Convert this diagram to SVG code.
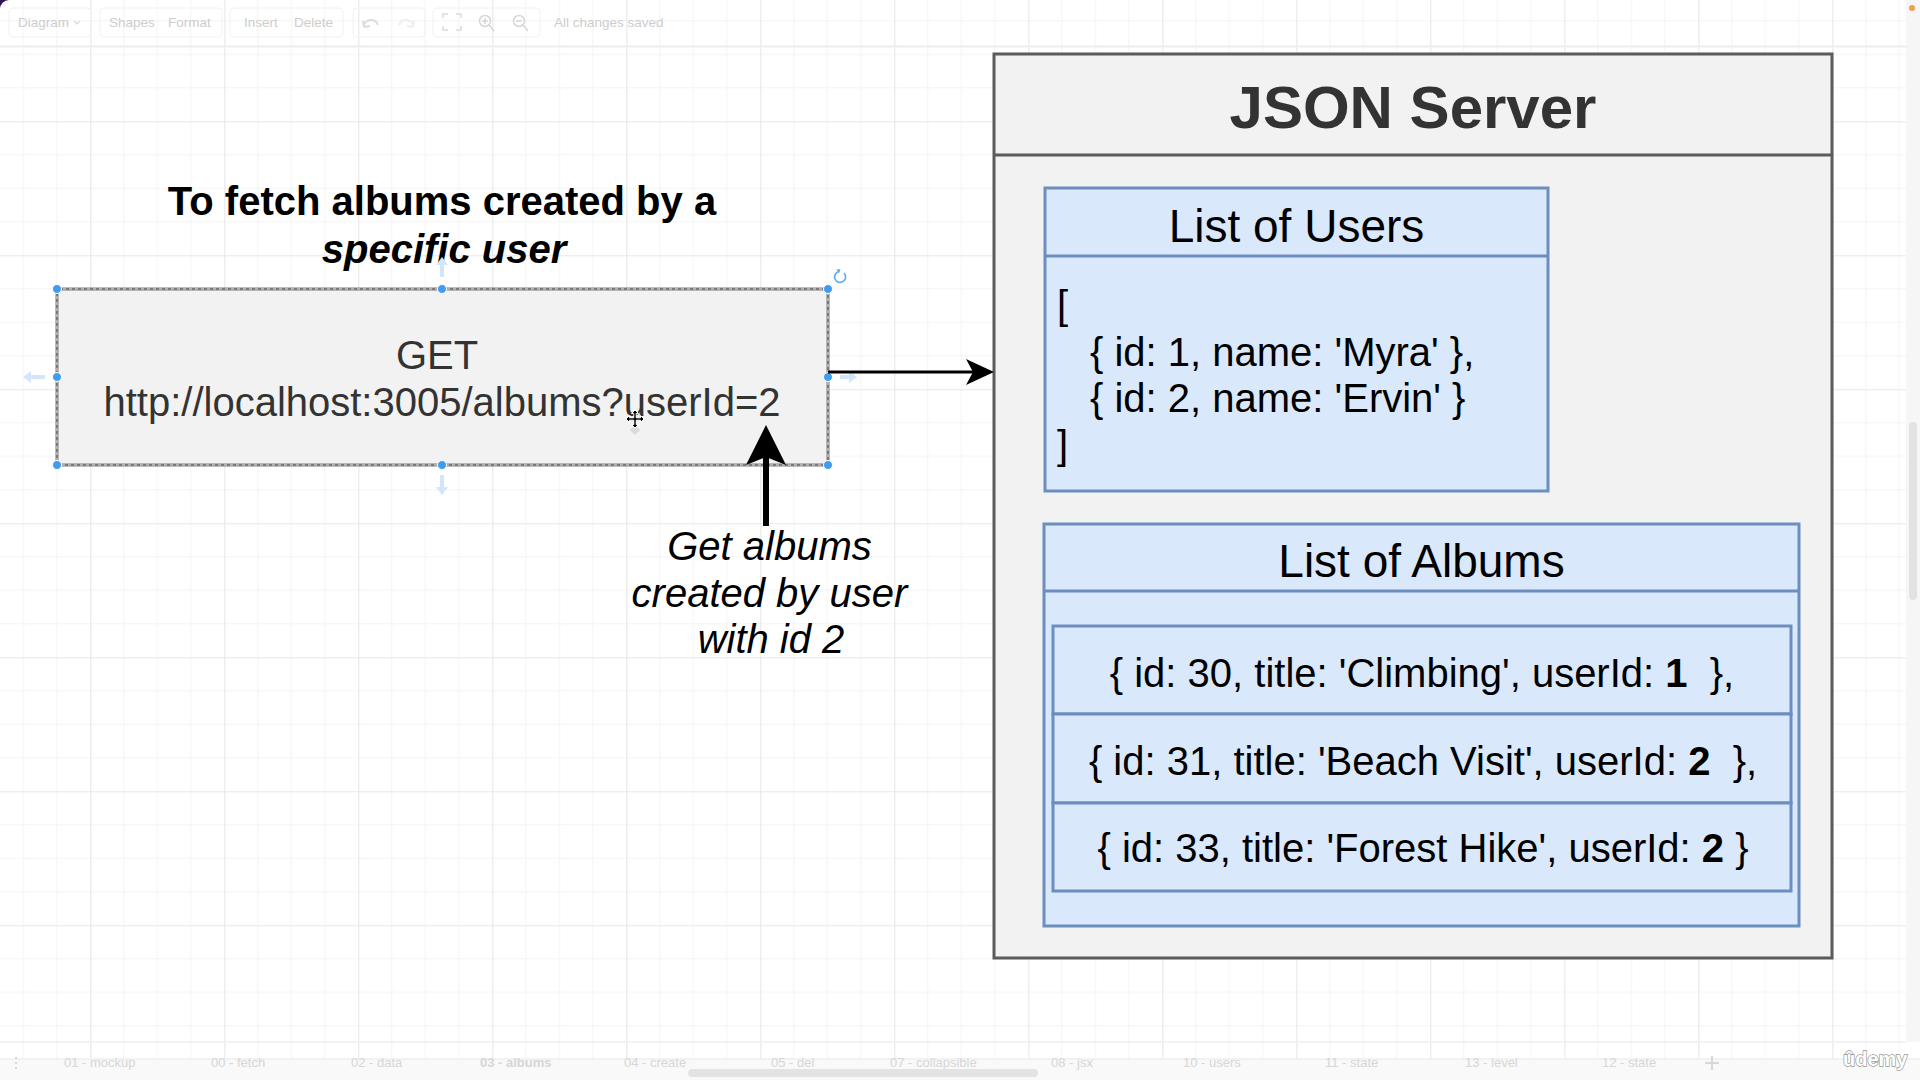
<svg xmlns="http://www.w3.org/2000/svg" width="1920" height="1080" viewBox="0 0 1920 1080">
<defs>
<style>
.f{font-family:"Liberation Sans",Arial,Helvetica,sans-serif}
.ui{font-family:"Liberation Sans",Arial,sans-serif;font-size:13.5px;fill:#cdcdcd}
.tab{font-family:"Liberation Sans",Arial,sans-serif;font-size:13px;fill:#d6d6d6}
.blue{fill:#dae8fc;stroke:#6c8ebf;stroke-width:3}
.bl{stroke:#6c8ebf;stroke-width:3;fill:none}
.row{font-family:"Liberation Sans",Arial,sans-serif;font-size:40px;fill:#000;text-anchor:middle;white-space:pre}
.handle{fill:#3f9cf0;stroke:#fff;stroke-width:1}
.hover{fill:#d3e5fa}
.tb{fill:none;stroke:#f1f1f1;stroke-width:1}
</style>
<pattern id="grid" patternUnits="userSpaceOnUse" x="90.3" y="121.3" width="134" height="134">
<path d="M0 33.5H134M0 67H134M0 100.5H134M33.5 0V134M67 0V134M100.5 0V134" stroke="#f4f4f4" stroke-width="1" fill="none"/>
<path d="M0 0.5H134M0.5 0V134" stroke="#e7e7e7" stroke-width="1.2" fill="none"/>
</pattern>
<marker id="headS" markerUnits="userSpaceOnUse" viewBox="0 0 28 26" refX="18" refY="13" markerWidth="28" markerHeight="26" orient="auto">
<path d="M28 13L0 0L7 13L0 26Z" fill="#000"/>
</marker>
<marker id="headL" markerUnits="userSpaceOnUse" viewBox="0 0 40 40" refX="25" refY="20" markerWidth="40" markerHeight="40" orient="auto">
<path d="M40 20L0 0L8 20L0 40Z" fill="#000"/>
</marker>
</defs>

<!-- window background -->
<rect x="0" y="0" width="1920" height="1080" fill="#2a1650"/>
<rect x="0" y="0" width="1920" height="1080" rx="9" fill="#ffffff"/>
<rect x="0" y="0" width="1920" height="1080" rx="9" fill="url(#grid)"/>
<rect x="1906" y="0" width="14" height="1042" fill="#f6f6f6"/>
<rect x="1909" y="422" width="8" height="178" rx="4" fill="#e2e2e2"/>
<circle cx="1912" cy="8" r="3" fill="#f0a050"/>

<!-- toolbar (faded) -->
<g id="toolbar">
<line x1="0" y1="46.5" x2="1906" y2="46.5" stroke="#ededed" stroke-width="2"/>
<rect class="tb" x="9" y="8" width="82" height="29" rx="4"/>
<rect class="tb" x="100" y="8" width="122" height="29" rx="4"/>
<rect class="tb" x="230" y="8" width="113" height="29" rx="4"/>
<rect class="tb" x="353" y="8" width="72" height="29" rx="4"/>
<rect class="tb" x="433" y="8" width="107" height="29" rx="4"/>
<text class="ui" x="18" y="27">Diagram</text>
<path d="M74 21l3 3 3-3" fill="none" stroke="#d6d6d6" stroke-width="1.2"/>
<text class="ui" x="109" y="27">Shapes</text>
<text class="ui" x="168" y="27">Format</text>
<text class="ui" x="244" y="27">Insert</text>
<text class="ui" x="294" y="27">Delete</text>
<path d="M364 27a7 6 0 0 1 14 -2M364 27l-1-6M364 27l6-1" fill="none" stroke="#dcdcdc" stroke-width="2"/>
<path d="M413 27a7 6 0 0 0 -14 -2M413 27l1-6M413 27l-6-1" fill="none" stroke="#eeeeee" stroke-width="2"/>
<path d="M443 18v-4h5M461 18v-4h-5M443 26v4h5M461 26v4h-5" fill="none" stroke="#dcdcdc" stroke-width="1.5"/>
<circle cx="485" cy="21" r="5.5" fill="none" stroke="#d6d6d6" stroke-width="1.5"/>
<path d="M489 25l5 6M482 21h6M485 18v6" fill="none" stroke="#d6d6d6" stroke-width="1.5"/>
<circle cx="519" cy="21" r="5.5" fill="none" stroke="#d6d6d6" stroke-width="1.5"/>
<path d="M523 25l5 6M516 21h6" fill="none" stroke="#d6d6d6" stroke-width="1.5"/>
<text class="ui" x="554" y="27">All changes saved</text>
</g>

<!-- bottom tab bar (faded) -->
<g id="tabs">
<line x1="0" y1="1042" x2="1906" y2="1042" stroke="#eeeeee" stroke-width="1.5"/>
<rect x="0" y="1059" width="1920" height="21" fill="#f9f9f9"/>
<line x1="0" y1="1059" x2="1920" y2="1059" stroke="#eeeeee" stroke-width="1.5"/>
<path d="M16 1057v2M16 1062v2M16 1067v2" stroke="#d8d8d8" stroke-width="2"/>
<text class="tab" x="64" y="1067">01 - mockup</text>
<text class="tab" x="211" y="1067">00 - fetch</text>
<text class="tab" x="351" y="1067">02 - data</text>
<text class="tab" x="480" y="1067" font-weight="bold" fill="#c9c9c9">03 - albums</text>
<text class="tab" x="624" y="1067">04 - create</text>
<text class="tab" x="771" y="1067">05 - del</text>
<text class="tab" x="890" y="1067">07 - collapsible</text>
<text class="tab" x="1051" y="1067">08 - jsx</text>
<text class="tab" x="1183" y="1067">10 - users</text>
<text class="tab" x="1325" y="1067">11 - state</text>
<text class="tab" x="1465" y="1067">13 - level</text>
<text class="tab" x="1602" y="1067">12 - state</text>
<path d="M1712 1056v14M1705 1063h14" stroke="#d8d8d8" stroke-width="2"/>
<rect x="688" y="1069" width="350" height="8" rx="4" fill="#e3e3e3"/>
</g>

<!-- caption -->
<g id="caption">
<text class="f" x="442" y="215" font-size="40" font-weight="bold" text-anchor="middle" fill="#000">To fetch albums created by a</text>
<text class="f" x="444" y="263" font-size="40" font-weight="bold" font-style="italic" text-anchor="middle" fill="#000">specific user</text>
</g>

<!-- GET request node (selected) -->
<g id="get-request">
<path class="hover" d="M442 257l-6 8h4v12h4v-12h4z"/>
<path class="hover" d="M442 495l-6-8h4v-12h4v12h4z"/>
<path class="hover" d="M23 377l8-6v4h14v4h-14v4z"/>
<path class="hover" d="M857 377l-8-6v4h-9v4h9v4z"/>
<rect x="57" y="289" width="771" height="176" fill="#f2f2f2" stroke="#7a7a7a" stroke-width="3"/>
<rect x="57" y="289" width="771" height="176" fill="none" stroke="#e6e6e6" stroke-width="1" stroke-dasharray="3 3"/>
<text class="f" x="437" y="369" font-size="40" text-anchor="middle" fill="#333333">GET</text>
<text class="f" x="442" y="416" font-size="40" text-anchor="middle" fill="#333333">http://localhost:3005/albums?userId=2</text>
<circle class="handle" cx="57" cy="289" r="4.5"/>
<circle class="handle" cx="442" cy="289" r="4.5"/>
<circle class="handle" cx="828" cy="289" r="4.5"/>
<circle class="handle" cx="57" cy="377" r="4.5"/>
<circle class="handle" cx="828" cy="377" r="4.5"/>
<circle class="handle" cx="57" cy="465" r="4.5"/>
<circle class="handle" cx="442" cy="465" r="4.5"/>
<circle class="handle" cx="828" cy="465" r="4.5"/>
<path d="M844 273a5.5 5.5 0 1 1 -5 -1.5" fill="none" stroke="#5aa9f0" stroke-width="1.6"/>
<path d="M836.5 269l4 0.5-1.5 3.8z" fill="#5aa9f0"/>
</g>

<!-- annotation -->
<g id="annotation">
<text class="f" font-size="40" font-style="italic" text-anchor="middle" fill="#000">
<tspan x="775" y="560">Get albums</tspan>
<tspan x="775" y="607">created by user</tspan>
<tspan x="771" y="653">with id 2</tspan>
</text>
</g>

<!-- JSON server -->
<g id="json-server">
<rect x="994" y="54" width="838" height="904" fill="#f2f2f2" stroke="#5b5b5b" stroke-width="3"/>
<line x1="994" y1="155" x2="1832" y2="155" stroke="#5b5b5b" stroke-width="3"/>
<text class="f" x="1413" y="128" font-size="60" font-weight="bold" text-anchor="middle" fill="#333333">JSON Server</text>
</g>

<g id="list-of-users">
<rect class="blue" x="1045" y="188" width="503" height="303"/>
<line class="bl" x1="1045" y1="256" x2="1548" y2="256"/>
<text class="f" x="1296.5" y="242" font-size="46" text-anchor="middle" fill="#000">List of Users</text>
<text class="f" font-size="40" fill="#000">
<tspan x="1057" y="319">[</tspan>
<tspan x="1090" y="366">{ id: 1, name: 'Myra' },</tspan>
<tspan x="1090" y="412">{ id: 2, name: 'Ervin' }</tspan>
<tspan x="1057" y="459">]</tspan>
</text>
</g>

<g id="list-of-albums">
<rect class="blue" x="1044" y="524" width="755" height="402"/>
<line class="bl" x1="1044" y1="591" x2="1799" y2="591"/>
<text class="f" x="1421.5" y="577" font-size="46" text-anchor="middle" fill="#000">List of Albums</text>
</g>
<g id="album-30">
<rect class="blue" x="1053" y="626" width="738" height="88"/>
<text class="row" x="1422" y="687">{ id: 30, title: 'Climbing', userId: <tspan font-weight="bold">1</tspan>  },</text>
</g>
<g id="album-31">
<rect class="blue" x="1053" y="714" width="738" height="89"/>
<text class="row" x="1423" y="775">{ id: 31, title: 'Beach Visit', userId: <tspan font-weight="bold">2</tspan>  },</text>
</g>
<g id="album-33">
<rect class="blue" x="1053" y="803" width="738" height="88"/>
<text class="row" x="1423" y="862">{ id: 33, title: 'Forest Hike', userId: <tspan font-weight="bold">2</tspan> }</text>
</g>

<!-- connectors -->
<g id="connectors">
<line x1="828" y1="372" x2="984" y2="372" stroke="#000" stroke-width="3" marker-end="url(#headS)"/>
<line x1="766" y1="526" x2="766" y2="440" stroke="#000" stroke-width="6" marker-end="url(#headL)"/>
</g>

<!-- mouse cursor -->
<g id="cursor" transform="translate(635,419)">
<path d="M0 6l5 5-5 5-5-5z" fill="#d0d0d0" opacity="0.7"/>
<path d="M0-9L3.5-5.5H1.2V-1.2H5.5V-3.5L9 0L5.5 3.5V1.2H1.2V5.5H3.5L0 9L-3.5 5.5H-1.2V1.2H-5.5V3.5L-9 0L-5.5-3.5V-1.2H-1.2V-5.5H-3.5Z" fill="#000" stroke="#fff" stroke-width="1"/>
</g>

<text class="f" x="1843" y="1066" font-size="20" font-weight="bold" fill="#ffffff" stroke="#9a9a9a" stroke-width="1.4" paint-order="stroke">ûdemy</text>
</svg>
